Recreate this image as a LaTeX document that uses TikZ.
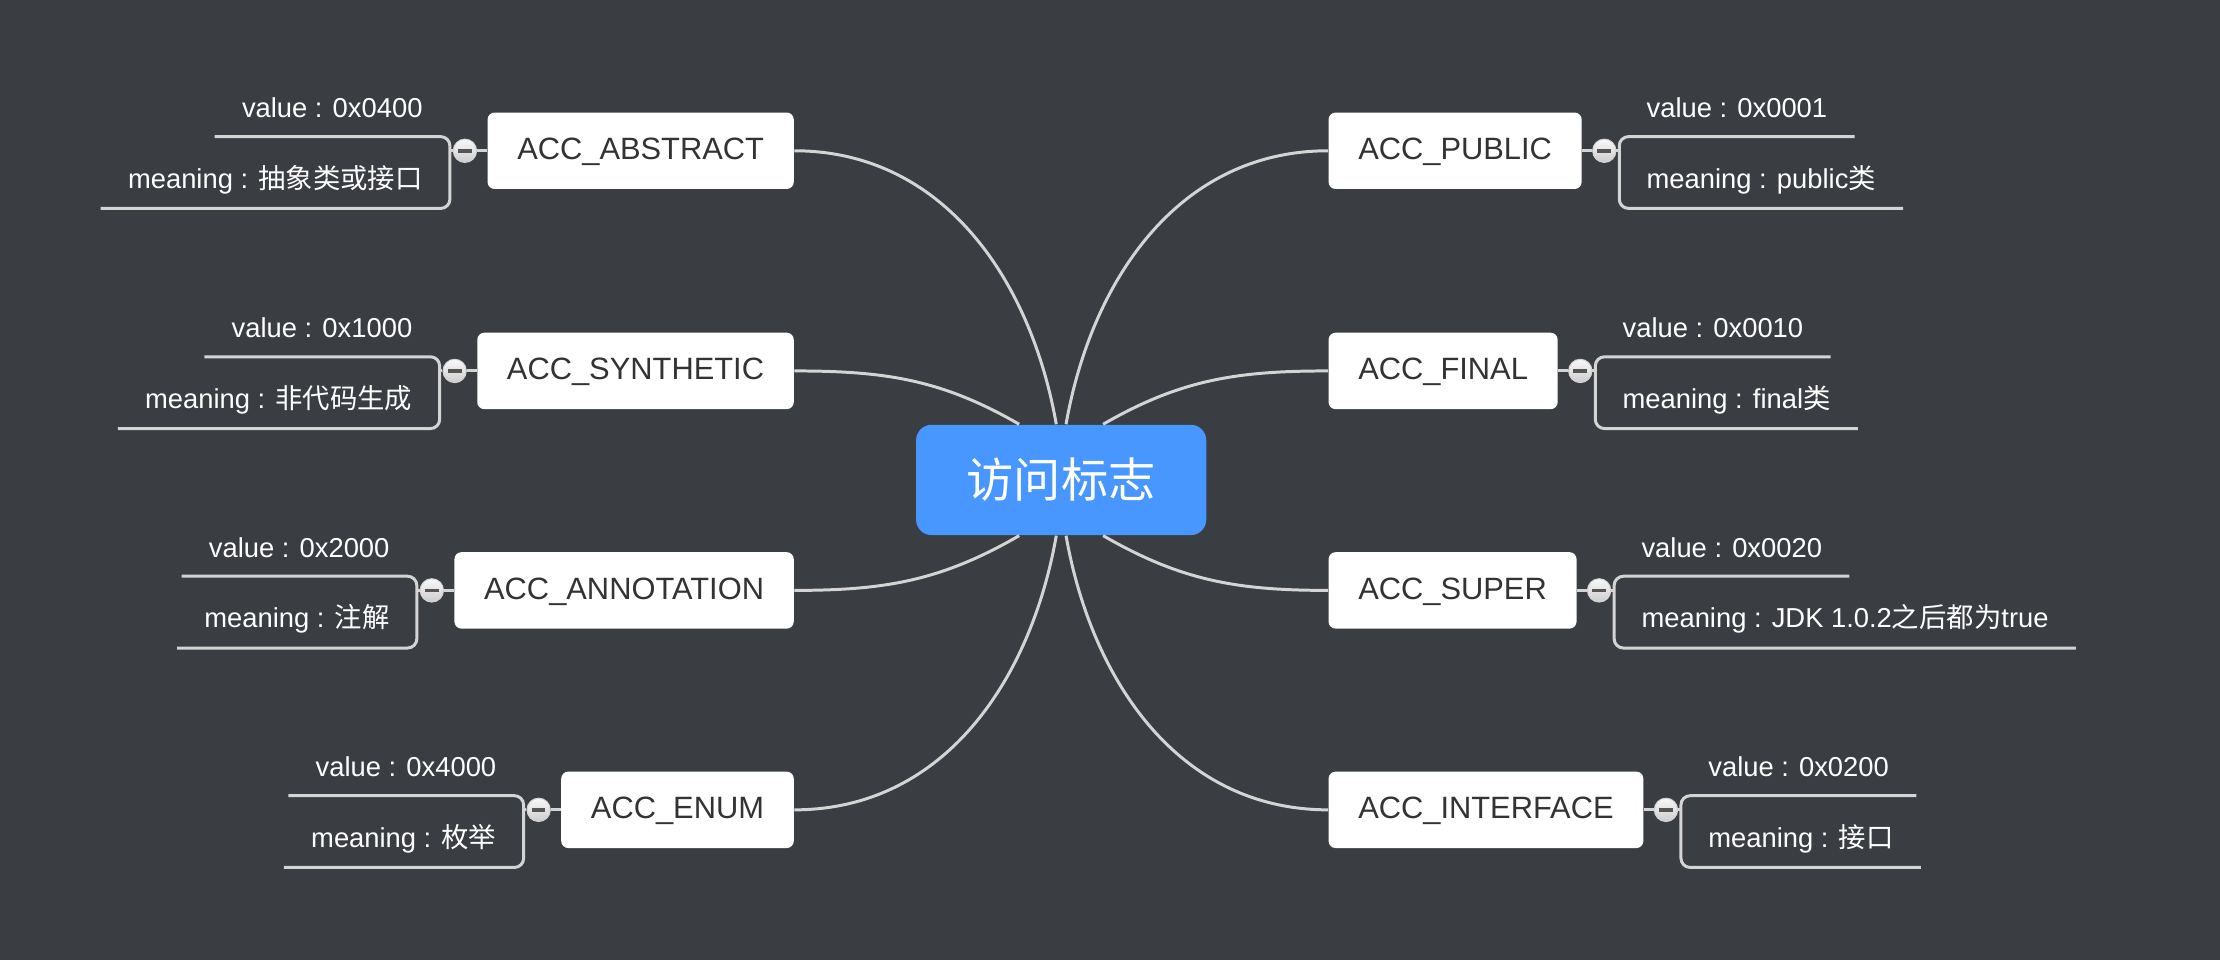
\documentclass[tikz,border=0pt]{standalone}
\usepackage{fontspec}
\setmainfont{Liberation Sans}
\newfontfamily\cjk{Noto Sans CJK SC}
\usetikzlibrary{positioning,calc}
\definecolor{bgcolor}{HTML}{3A3D42}
\definecolor{rootcolor}{HTML}{4896FF}
\definecolor{linecolor}{HTML}{D4D4D4}
\definecolor{boxtext}{HTML}{333333}
\definecolor{markcolor}{HTML}{555555}
\newcommand{\foldmark}{{\color{markcolor}\rule{5.5pt}{1.5pt}}}
\tikzset{
	root/.style={
		rectangle,
		rounded corners=0.22cm,
		fill=rootcolor,
		text=white,
		minimum width=4.1cm,
		minimum height=1.56cm,
		font=\fontsize{19}{23}\selectfont\cjk
	},
	flag/.style={
		rectangle,
		rounded corners=0.1cm,
		fill=white,
		text=boxtext,
		minimum height=1.08cm,
		inner xsep=0.42cm,
		text height=0.72em,
		text depth=0pt,
		font=\fontsize{12.4}{15}\selectfont
	},
	fold/.style={
		circle,
		top color=gray!5,
		bottom color=gray!40,
		draw=gray!35,
		line width=0.4pt,
		minimum size=0.33cm,
		inner sep=0pt
	},
	leaf/.style={
		rectangle,
		text=white,
		minimum height=0.8cm,
		inner xsep=0.38cm,
		inner ysep=0pt,
		font=\fontsize{11}{13}\selectfont
	},
	link/.style={
		draw=linecolor,
		line width=1.2pt
	},
	bracket/.style={
		draw=linecolor,
		line width=1.2pt,
		rounded corners=0.13cm
	},
}

\begin{document}
\begin{tikzpicture}[x=0.02cm,y=0.02cm]
	\fill[bgcolor] (0,0) rectangle (1568,-678);
	\node[root] (c) at (749.5,-339) {访问标志};
	% left branches
	\node[flag,anchor=east] (abs) at (561,-106.5) {ACC\_ABSTRACT};
	\node[flag,anchor=east] (syn) at (561,-262) {ACC\_SYNTHETIC};
	\node[flag,anchor=east] (ann) at (561,-417) {ACC\_ANNOTATION};
	\node[flag,anchor=east] (enu) at (561,-572) {ACC\_ENUM};
	% right branches
	\node[flag,anchor=west] (pub) at (938,-106.5) {ACC\_PUBLIC};
	\node[flag,anchor=west] (fin) at (938,-262) {ACC\_FINAL};
	\node[flag,anchor=west] (sup) at (938,-417) {ACC\_SUPER};
	\node[flag,anchor=west] (itf) at (938,-572) {ACC\_INTERFACE};

	\path[link]
	(c.95) edge[out=100,in=0] (abs.east)
	(c.127) edge[out=150,in=0] (syn.east)
	(c.233) edge[out=210,in=0] (ann.east)
	(c.265) edge[out=260,in=0] (enu.east)
	(c.85) edge[out=80,in=180] (pub.west)
	(c.53) edge[out=30,in=180] (fin.west)
	(c.-53) edge[out=-30,in=180] (sup.west)
	(c.-85) edge[out=-80,in=180] (itf.west)
	;

	\foreach \b/\v/\m in {abs/0x0400/{\cjk 抽象类或接口}, syn/0x1000/{\cjk 非代码生成}, ann/0x2000/{\cjk 注解}, enu/0x4000/{\cjk 枚举}}{
		\node[fold,left=0.14cm of \b] (m-\b) {\foldmark};
		\node[leaf,above left=0.2cm and 0.04cm of m-\b.west] (v-\b) {value : \v};
		\node[leaf,below left=0cm and 0.04cm of m-\b.west] (n-\b) {meaning : \m};
		\draw[link] (\b.west) -- (m-\b.east);
		\draw[link] (m-\b.west) -- (m-\b.west -| v-\b.south east);
		\draw[bracket] (v-\b.south west) -- (v-\b.south east) -- (n-\b.south east) -- (n-\b.south west);
	}
	\foreach \b/\v/\m in {pub/0x0001/{public{\cjk 类}}, fin/0x0010/{final{\cjk 类}}, sup/0x0020/{JDK 1.0.2{\cjk 之后都为}true}, itf/0x0200/{\cjk 接口}}{
		\node[fold,right=0.14cm of \b] (m-\b) {\foldmark};
		\node[leaf,above right=0.2cm and 0.04cm of m-\b.east] (v-\b) {value : \v};
		\node[leaf,below right=0cm and 0.04cm of m-\b.east] (n-\b) {meaning : \m};
		\draw[link] (\b.east) -- (m-\b.west);
		\draw[link] (m-\b.east) -- (m-\b.east -| v-\b.south west);
		\draw[bracket] (v-\b.south east) -- (v-\b.south west) -- (n-\b.south west) -- (n-\b.south east);
	}
\end{tikzpicture}
\end{document}
